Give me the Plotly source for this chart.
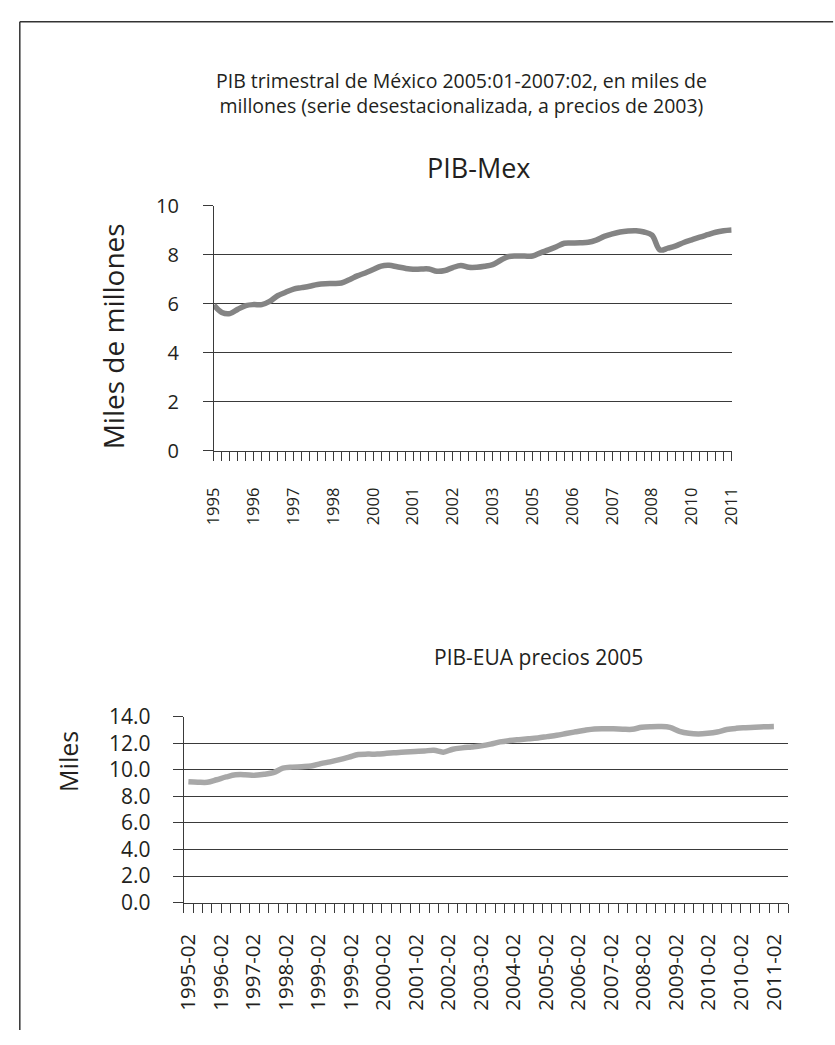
import plotly.graph_objects as go

# ---------------- data ----------------
mex_pib = [5.95, 5.65, 5.60, 5.78, 5.93, 5.97, 5.97, 6.10, 6.33, 6.47,
           6.60, 6.66, 6.72, 6.79, 6.82, 6.83, 6.85, 6.98, 7.14, 7.26,
           7.40, 7.54, 7.57, 7.51, 7.45, 7.41, 7.42, 7.42, 7.33, 7.36,
           7.48, 7.56, 7.49, 7.49, 7.53, 7.60, 7.78, 7.93, 7.95, 7.95,
           7.95, 8.08, 8.20, 8.33, 8.47, 8.48, 8.49, 8.51, 8.60, 8.75,
           8.85, 8.93, 8.97, 8.98, 8.93, 8.80, 8.20, 8.27, 8.36, 8.50,
           8.61, 8.72, 8.82, 8.92, 8.98, 9.01]
mex_tick_labels = ["1995", "1996", "1997", "1998", "2000", "2001", "2002",
                   "2003", "2005", "2006", "2007", "2008", "2010", "2011"]
mex_label_step = 5

us_pib = [9.10, 9.07, 9.06, 9.25, 9.46, 9.62, 9.63, 9.58, 9.66, 9.78,
          10.12, 10.20, 10.23, 10.28, 10.46, 10.60, 10.76, 10.95, 11.15, 11.18,
          11.18, 11.24, 11.29, 11.34, 11.38, 11.42, 11.47, 11.33, 11.55, 11.65,
          11.72, 11.80, 11.93, 12.10, 12.20, 12.27, 12.33, 12.40, 12.50, 12.60,
          12.73, 12.86, 12.98, 13.07, 13.09, 13.09, 13.06, 13.05, 13.20, 13.25,
          13.26, 13.19, 12.90, 12.75, 12.70, 12.75, 12.85, 13.03, 13.12, 13.17,
          13.21, 13.24, 13.26]
us_tick_labels = ["1995-02", "1996-02", "1997-02", "1998-02", "1999-02",
                  "1999-02", "2000-02", "2001-02", "2002-02", "2003-02",
                  "2004-02", "2005-02", "2006-02", "2007-02", "2008-02",
                  "2009-02", "2010-02", "2010-02", "2011-02"]
us_categories = 64

# ---------------- layout helpers ----------------
W, H = 835, 1045
FONT = "Open Sans"
TXT = "#231f20"
GRID = "#3a3a3a"


def px_x(v):
    return v / W


def px_y(v):
    return 1 - v / H


fig = go.Figure()

mex_x = list(range(len(mex_pib)))
fig.add_trace(go.Scatter(
    x=mex_x, y=mex_pib, mode="lines",
    line=dict(color="#848484", width=5.5, shape="spline", smoothing=1.0),
    xaxis="x", yaxis="y", showlegend=False, hoverinfo="skip"))

us_x = list(range(len(us_pib)))
fig.add_trace(go.Scatter(
    x=us_x, y=us_pib, mode="lines",
    line=dict(color="#a8a8a8", width=5.5, shape="spline", smoothing=1.0),
    xaxis="x2", yaxis="y2", showlegend=False, hoverinfo="skip"))

mex_tickvals = [i * mex_label_step for i in range(len(mex_tick_labels))]
us_tickvals = [k * (len(us_pib) - 1) / (len(us_tick_labels) - 1)
               for k in range(len(us_tick_labels))]

axis_common = dict(showline=True, linecolor=GRID, linewidth=1, fixedrange=True)

fig.update_layout(
    width=W, height=H, autosize=False,
    margin=dict(l=0, r=0, t=0, b=0),
    paper_bgcolor="white", plot_bgcolor="white",
    font=dict(family=FONT, color=TXT),
    xaxis=dict(
        domain=[px_x(206.6), px_x(739)], anchor="y",
        range=[0, len(mex_pib) - 1],
        tickmode="array", tickvals=mex_tickvals, ticktext=mex_tick_labels,
        tickangle=-90, ticks="outside", ticklen=9, tickcolor=GRID,
        ticklabelstandoff=20,
        tickfont=dict(family=FONT, color=TXT, size=16.5),
        minor=dict(tickmode="linear", tick0=0, dtick=1, ticks="outside",
                   ticklen=9, tickcolor=GRID, showgrid=False),
        showgrid=False, zeroline=False, **axis_common),
    yaxis=dict(
        domain=[px_y(448), px_y(196)], anchor="x",
        range=[0, 10], tickmode="linear", tick0=0, dtick=2,
        ticks="outside", ticklen=10, tickcolor=GRID,
        ticklabelstandoff=20,
        tickfont=dict(family=FONT, color=TXT, size=20),
        showgrid=True, gridcolor=GRID, gridwidth=1, zeroline=False,
        **axis_common),
    xaxis2=dict(
        domain=[px_x(175.5), px_x(797)], anchor="y2",
        range=[-0.5, us_categories - 0.5],
        tickmode="array", tickvals=us_tickvals, ticktext=us_tick_labels,
        tickangle=-90, ticks="", ticklabelstandoff=22,
        tickfont=dict(family=FONT, color=TXT, size=20.5),
        minor=dict(tickmode="linear", tick0=-0.5, dtick=1, ticks="outside",
                   ticklen=9, tickcolor=GRID, showgrid=False),
        showgrid=False, zeroline=False, **axis_common),
    yaxis2=dict(
        domain=[px_y(912), px_y(721)], anchor="x2",
        range=[0, 14], tickmode="linear", tick0=0, dtick=2,
        tickformat=".1f",
        ticks="outside", ticklen=10, tickcolor=GRID,
        ticklabelstandoff=18,
        tickfont=dict(family=FONT, color=TXT, size=21),
        showgrid=True, gridcolor=GRID, gridwidth=1, zeroline=False,
        **axis_common),
)

annotations = [
    dict(text="PIB trimestral de México 2005:01-2007:02, en miles de<br>"
              "millones (serie desestacionalizada, a precios de 2003)",
         x=px_x(461), y=px_y(80.5), size=19.5),
    dict(text="PIB-Mex", x=px_x(479), y=px_y(157), size=27),
    dict(text="PIB-EUA precios 2005", x=px_x(540), y=px_y(660), size=21),
    dict(text="Miles de millones", x=px_x(103), y=px_y(330), size=28, angle=-90),
    dict(text="Miles", x=px_x(57), y=px_y(767), size=25, angle=-90),
]
for a in annotations:
    fig.add_annotation(
        text=a["text"], x=a["x"], y=a["y"], xref="paper", yref="paper",
        xanchor="center", yanchor="middle", showarrow=False,
        textangle=a.get("angle", 0),
        font=dict(family=FONT, size=a["size"], color=TXT))

# page frame (left and top edges of the bordered box)
fig.add_shape(type="line", xref="paper", yref="paper",
              x0=px_x(7), y0=px_y(7), x1=1.01, y1=px_y(7),
              line=dict(color="#333333", width=1.5))
fig.add_shape(type="line", xref="paper", yref="paper",
              x0=px_x(7), y0=px_y(7), x1=px_x(7), y1=px_y(1043),
              line=dict(color="#333333", width=1.5))

fig.write_html(
    "out.html",
    config={"displayModeBar": False, "staticPlot": True},
    post_script="document.body.style.margin='0';"
                "document.body.style.overflow='hidden';")
